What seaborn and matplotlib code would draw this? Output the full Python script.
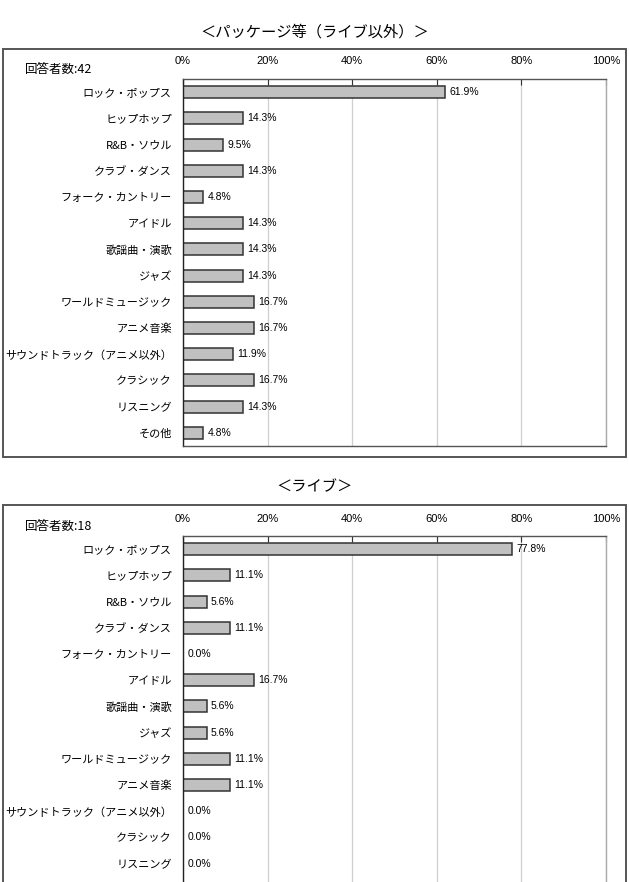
import matplotlib
matplotlib.use("Agg")
import matplotlib.pyplot as plt
import numpy as np
import pandas as pd
import seaborn as sns
from matplotlib.patches import Rectangle

categories = ["ロック・ポップス", "ヒップホップ", "R&B・ソウル", "クラブ・ダンス",
              "フォーク・カントリー", "アイドル", "歌謡曲・演歌", "ジャズ",
              "ワールドミュージック", "アニメ音楽", "サウンドトラック（アニメ以外）",
              "クラシック", "リスニング", "その他"]
package_values = [61.9, 14.3, 9.5, 14.3, 4.8, 14.3, 14.3, 14.3, 16.7, 16.7, 11.9, 16.7, 14.3, 4.8]
live_values = [77.8, 11.1, 5.6, 11.1, 0.0, 16.7, 5.6, 5.6, 11.1, 11.1, 0.0, 0.0, 0.0, 0.0]
package_n = 42
live_n = 18
x_ticks = [0, 20, 40, 60, 80, 100]

sns.set_style("white")
plt.rcParams["font.family"] = ["Noto Sans CJK JP", "DejaVu Sans"]
plt.rcParams["text.color"] = "black"
plt.rcParams["xtick.color"] = "black"
plt.rcParams["ytick.color"] = "black"
num_font = ["Liberation Sans Narrow", "Liberation Sans", "DejaVu Sans"]

W, H = 629, 882
fig = plt.figure(figsize=(W / 100, H / 100), dpi=100)


def px(x0, y0, w, h):
    # pixel box (from top-left) -> figure fraction
    return [x0 / W, 1 - (y0 + h) / H, w / W, h / H]


def draw_panel(ax, values, n):
    df = pd.DataFrame({"genre": categories, "pct": values})
    sns.barplot(data=df, x="pct", y="genre", orient="h", ax=ax, color="#c0c0c0",
                edgecolor="#333333", linewidth=1.1, width=0.46, saturation=1)
    ax.set_xlim(0, 100)
    ax.set_ylim(len(categories) - 0.5, -0.5)
    ax.set_xlabel("")
    ax.set_ylabel("")
    ax.xaxis.tick_top()
    ax.set_xticks(x_ticks)
    ax.set_xticklabels([f"{t}%" for t in x_ticks], family=num_font, fontsize=8)
    ax.tick_params(axis="x", direction="in", length=4, pad=9, color="#333333")
    ax.grid(axis="x", color="#cfcfcf", linewidth=0.9)
    ax.set_axisbelow(True)
    ax.set_yticks(np.arange(len(categories)))
    ax.set_yticklabels(categories, fontsize=8)
    ax.set_yticks(np.arange(len(categories) + 1) - 0.5, minor=True)
    ax.tick_params(axis="y", which="major", length=0, pad=8)
    ax.tick_params(axis="y", which="minor", direction="in", length=4, color="#333333")
    for side in ["top", "bottom"]:
        ax.spines[side].set_color("#555555")
    ax.spines["right"].set_color("#aaaaaa")
    ax.spines["left"].set_color("#222222")
    for s in ax.spines.values():
        s.set_linewidth(1.0)
    for i, v in enumerate(values):
        ax.annotate(f"{v:.1f}%", (v, i), xytext=(3, 0), textcoords="offset points",
                    va="center", ha="left", fontsize=7.5, family=num_font)
    ax.text(-0.373, 1.025, f"回答者数:{n}", transform=ax.transAxes, fontsize=9,
            ha="left", va="center")


# outer frames
fig.patches.append(Rectangle((3 / W, 1 - 457 / H), 623 / W, 408 / H, transform=fig.transFigure,
                             fill=False, edgecolor="#555555", linewidth=1.4))
fig.patches.append(Rectangle((3 / W, 1 - 900 / H), 623 / W, 395 / H, transform=fig.transFigure,
                             fill=False, edgecolor="#555555", linewidth=1.4))

fig.text(315 / W, 1 - 32 / H, "＜パッケージ等（ライブ以外）＞", ha="center", va="center", fontsize=11)
fig.text(315 / W, 1 - 487 / H, "＜ライブ＞", ha="center", va="center", fontsize=11)

ax1 = fig.add_axes(px(183, 79, 423, 367))
draw_panel(ax1, package_values, package_n)
ax2 = fig.add_axes(px(183, 536, 423, 367))
draw_panel(ax2, live_values, live_n)

fig.savefig("out.png", dpi=100)
